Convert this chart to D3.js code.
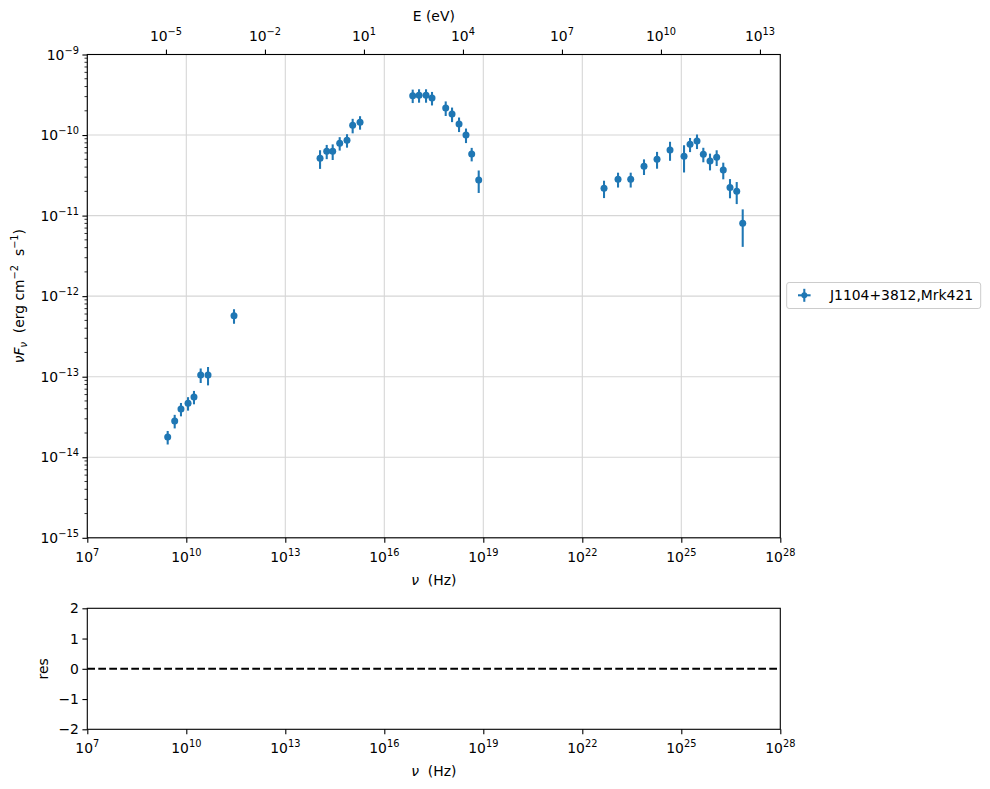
<!DOCTYPE html>
<html><head><meta charset="utf-8">
<script src="https://cdn.jsdelivr.net/npm/d3@7"></script>
<style>body{margin:0;background:#fff} text{font-family:"DejaVu Sans",sans-serif;fill:#000;white-space:pre}</style>
</head><body><svg id="c" width="990" height="789"></svg>
<script>
// ---- data ----
const nu = [2.73e9,4.45e9,6.90e9,1.13e10,1.71e10,2.73e10,4.55e10,2.79e11,
  1.13e14,1.80e14,2.73e14,4.45e14,7.41e14,1.10e15,1.84e15,
  7.26e16,1.13e17,1.84e17,2.79e17,7.26e17,1.13e18,1.84e18,2.99e18,4.45e18,7.26e18,
  4.55e22,1.21e23,2.93e23,7.41e23,1.84e24,4.55e24,1.21e25,1.84e25,2.99e25,4.65e25,7.41e25,1.18e26,1.87e26,2.99e26,4.78e26,7.26e26];
const nuFnu = [1.78e-14,2.82e-14,3.97e-14,4.68e-14,5.60e-14,1.05e-13,1.05e-13,5.71e-13,
  5.14e-11,6.28e-11,6.28e-11,7.91e-11,8.61e-11,1.32e-10,1.44e-10,
  3.08e-10,3.11e-10,3.11e-10,2.88e-10,2.17e-10,1.82e-10,1.37e-10,1.00e-10,5.82e-11,2.77e-11,
  2.18e-11,2.82e-11,2.82e-11,4.09e-11,5.00e-11,6.52e-11,5.45e-11,7.67e-11,8.43e-11,5.77e-11,4.76e-11,5.30e-11,3.68e-11,2.24e-11,2.00e-11,8.02e-12];
const nuFnuErr = [3.4e-15,5.4e-15,7.5e-15,8.9e-15,1.06e-14,2.15e-14,2.7e-14,1.17e-13,
  1.34e-11,1.26e-11,1.38e-11,1.5e-11,1.64e-11,2.7e-11,2.74e-11,
  5.85e-11,5.9e-11,5.9e-11,5.5e-11,4.45e-11,3.73e-11,2.81e-11,2.05e-11,1.11e-11,8.6e-12,
  5.3e-12,5.9e-12,5.9e-12,9.0e-12,1.18e-11,1.73e-11,2.02e-11,1.53e-11,1.73e-11,1.18e-11,1.12e-11,1.17e-11,8.6e-12,6.0e-12,6.1e-12,3.93e-12];
const seriesName = "J1104+3812,Mrk421";
const nuTicks = [1e7,1e10,1e13,1e16,1e19,1e22,1e25,1e28];
const nuTickExp = ["7","10","13","16","19","22","25","28"];
const eTicks = [1e-5,1e-2,1e1,1e4,1e7,1e10,1e13];
const eTickExp = ["\u22125","\u22122","1","4","7","10","13"];
const fTicks = [1e-15,1e-14,1e-13,1e-12,1e-11,1e-10,1e-9];
const fTickExp = ["\u221215","\u221214","\u221213","\u221212","\u221211","\u221210","\u22129"];
const resTicks = [-2,-1,0,1,2];
const hPlanck = 4.135667696e-15; // eV/Hz

// ---- layout ----
const L = 87.3, R = 780.3, T = 54.5, B = 537.8, RT = 608.3, RB = 729.3;
const FS = 13.9, SFS = 9.8, C = "#1f77b4";
const svg = d3.select("#c");

const x = d3.scaleLog().domain([1e7,1e28]).range([L,R]);
const xE = d3.scaleLog().domain([1e7*hPlanck,1e28*hPlanck]).range([L,R]);
const y = d3.scaleLog().domain([1e-15,1e-9]).range([B,T]);
const yr = d3.scaleLinear().domain([-2,2]).range([RB,RT]);

// grid
const g = svg.append("g");
g.selectAll(".gx").data(nuTicks).join("line").attr("x1",d=>x(d)).attr("x2",d=>x(d)).attr("y1",T).attr("y2",B)
  .attr("stroke","#d6d6d6").attr("stroke-width",1.1);
g.selectAll(".gy").data(fTicks).join("line").attr("x1",L).attr("x2",R).attr("y1",d=>y(d)).attr("y2",d=>y(d))
  .attr("stroke","#d6d6d6").attr("stroke-width",1.1);

function sup(sel, base, exp, anchor){
  const t = sel.append("text").attr("text-anchor",anchor).attr("font-size",FS);
  t.append("tspan").text(base);
  t.append("tspan").attr("font-size",SFS).attr("dy",-6).text(exp);
  return t;
}

// data: error bars and points
const pts = svg.append("g");
pts.selectAll("line.eb").data(nu).join("line")
  .attr("x1",d=>x(d)).attr("x2",d=>x(d))
  .attr("y1",(d,i)=>y(nuFnu[i]+nuFnuErr[i])).attr("y2",(d,i)=>y(Math.max(nuFnu[i]-nuFnuErr[i],1e-16)))
  .attr("stroke",C).attr("stroke-width",2.08);
pts.selectAll("circle").data(nu).join("circle")
  .attr("cx",d=>x(d)).attr("cy",(d,i)=>y(nuFnu[i])).attr("r",3.5).attr("fill",C);

// main axes
const ax = svg.append("g");
ax.append("g").attr("transform",`translate(0,${B})`)
  .call(d3.axisBottom(x).tickValues(nuTicks).tickFormat("").tickSize(4.9).tickSizeOuter(0));
ax.append("g").attr("transform",`translate(0,${T})`)
  .call(d3.axisTop(xE).tickValues(eTicks).tickFormat("").tickSize(4.9).tickSizeOuter(0));
ax.append("g").attr("transform",`translate(${L},0)`)
  .call(d3.axisLeft(y).tickValues(fTicks).tickFormat("").tickSize(4.9).tickSizeOuter(0));
// minor y ticks
const minor = [];
fTicks.slice(0,-1).forEach(d=>{ for(let k=2;k<10;k++) minor.push(d*k); });
ax.selectAll("line.mn").data(minor).join("line").attr("x1",L).attr("x2",L-2.8)
  .attr("y1",d=>y(d)).attr("y2",d=>y(d)).attr("stroke","#000").attr("stroke-width",0.8);
svg.selectAll(".domain").remove();
svg.selectAll(".tick line").attr("stroke","#000").attr("stroke-width",1.1);
ax.append("rect").attr("x",L).attr("y",T).attr("width",R-L).attr("height",B-T)
  .attr("fill","none").attr("stroke","#000").attr("stroke-width",1.1);

nuTicks.forEach((d,i)=>{ sup(svg,"10",nuTickExp[i],"middle").attr("x",x(d)).attr("y",B+24); });
eTicks.forEach((d,i)=>{ sup(svg,"10",eTickExp[i],"middle").attr("x",xE(d)).attr("y",T-13.5); });
fTicks.forEach((d,i)=>{ sup(svg,"10",fTickExp[i],"end").attr("x",L-8.4).attr("y",y(d)+5); });

svg.append("text").attr("x",(L+R)/2).attr("y",584.5).attr("text-anchor","middle").attr("font-size",FS)
  .html('<tspan font-style="italic">ν</tspan>  (Hz)');
svg.append("text").attr("x",(L+R)/2).attr("y",20.5).attr("text-anchor","middle").attr("font-size",FS).text("E (eV)");
const yl = svg.append("text").attr("transform",`translate(24,${(T+B)/2}) rotate(-90)`).attr("text-anchor","middle")
  .attr("font-size",FS);
yl.append("tspan").attr("font-style","italic").text("νF");
yl.append("tspan").attr("font-style","italic").attr("font-size",SFS).attr("dy",3).text("ν");
yl.append("tspan").attr("dy",-3).text("  (erg cm");
yl.append("tspan").attr("font-size",SFS).attr("dy",-6).text("\u22122");
yl.append("tspan").attr("dy",6).text("  s");
yl.append("tspan").attr("font-size",SFS).attr("dy",-6).text("\u22121");
yl.append("tspan").attr("dy",6).text(")");

// legend
const lg = svg.append("g");
lg.append("rect").attr("x",786.7).attr("y",282.5).attr("width",194).attr("height",26).attr("rx",2.5)
  .attr("fill","#fff").attr("stroke","#cccccc").attr("stroke-width",1);
lg.append("line").attr("x1",804.3).attr("x2",804.3).attr("y1",288.8).attr("y2",301.8).attr("stroke",C).attr("stroke-width",2.08);
lg.append("line").attr("x1",798).attr("x2",810.6).attr("y1",295.3).attr("y2",295.3).attr("stroke",C).attr("stroke-width",2.08);
lg.append("circle").attr("cx",804.3).attr("cy",295.3).attr("r",3).attr("fill",C);
lg.append("text").attr("x",830).attr("y",300.3).attr("font-size",FS).text(seriesName);

// residual panel
const rp = svg.append("g");
rp.append("g").attr("transform",`translate(0,${RB})`)
  .call(d3.axisBottom(x).tickValues(nuTicks).tickFormat("").tickSize(4.9).tickSizeOuter(0));
rp.append("g").attr("transform",`translate(${L},0)`)
  .call(d3.axisLeft(yr).tickValues(resTicks).tickFormat("").tickSize(4.9).tickSizeOuter(0));
rp.selectAll(".domain").remove();
rp.selectAll(".tick line").attr("stroke","#000").attr("stroke-width",1.1);
rp.append("line").attr("x1",L).attr("x2",R).attr("y1",yr(0)).attr("y2",yr(0))
  .attr("stroke","#000").attr("stroke-width",2.08).attr("stroke-dasharray","7.7,3.3");
rp.append("rect").attr("x",L).attr("y",RT).attr("width",R-L).attr("height",RB-RT)
  .attr("fill","none").attr("stroke","#000").attr("stroke-width",1.1);
nuTicks.forEach((d,i)=>{ sup(svg,"10",nuTickExp[i],"middle").attr("x",x(d)).attr("y",RB+23.5); });
resTicks.forEach(d=>{
  svg.append("text").attr("x",L-8.4).attr("y",yr(d)+5).attr("text-anchor","end").attr("font-size",FS)
    .text(d<0 ? "\u2212"+Math.abs(d) : String(d));
});
svg.append("text").attr("x",(L+R)/2).attr("y",776).attr("text-anchor","middle").attr("font-size",FS)
  .html('<tspan font-style="italic">ν</tspan>  (Hz)');
svg.append("text").attr("transform",`translate(48,${(RT+RB)/2}) rotate(-90)`).attr("text-anchor","middle")
  .attr("font-size",FS).text("res");
</script></body></html>
